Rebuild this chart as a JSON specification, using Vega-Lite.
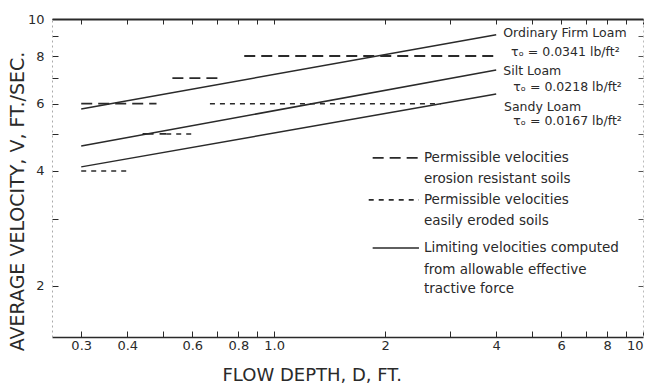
{
  "$schema": "https://vega.github.io/schema/vega-lite/v6.json",
  "width": 591,
  "height": 318,
  "autosize": "none",
  "padding": {"left": 52, "top": 19, "right": 7, "bottom": 48},
  "background": "white",
  "config": {
    "view": {"stroke": null},
    "font": "DejaVu Sans",
    "axis": {"grid": false}
  },
  "datasets": {
    "limits": [
      {"soil": "firm", "D": 0.3, "V": 5.81}, {"soil": "firm", "D": 4, "V": 9.1},
      {"soil": "silt", "D": 0.3, "V": 4.65}, {"soil": "silt", "D": 4, "V": 7.35},
      {"soil": "sandy", "D": 0.3, "V": 4.1}, {"soil": "sandy", "D": 4, "V": 6.36},
      {"soil": "legend", "D": 1.85, "V": 2.515}, {"soil": "legend", "D": 2.47, "V": 2.515}
    ],
    "resistant": [
      {"seg": "r6", "D": 0.3, "V": 6}, {"seg": "r6", "D": 0.48, "V": 6},
      {"seg": "r7", "D": 0.53, "V": 7}, {"seg": "r7", "D": 0.72, "V": 7},
      {"seg": "r8", "D": 0.83, "V": 8}, {"seg": "r8", "D": 4.05, "V": 8},
      {"seg": "r5", "D": 0.44, "V": 5}, {"seg": "r5", "D": 0.51, "V": 5},
      {"seg": "legend", "D": 1.85, "V": 4.33}, {"seg": "legend", "D": 2.47, "V": 4.33}
    ],
    "eroded": [
      {"seg": "e4", "D": 0.3, "V": 4}, {"seg": "e4", "D": 0.4, "V": 4},
      {"seg": "e5", "D": 0.51, "V": 5}, {"seg": "e5", "D": 0.6, "V": 5},
      {"seg": "e6", "D": 0.67, "V": 6}, {"seg": "e6", "D": 2.83, "V": 6},
      {"seg": "legend", "D": 1.805, "V": 3.36}, {"seg": "legend", "D": 2.47, "V": 3.36}
    ],
    "soilLabels": [
      {"D": 4.18, "V": 9.19, "t": "Ordinary Firm Loam"},
      {"D": 4.39, "V": 8.2, "t": "τₒ = 0.0341 lb/ft²"},
      {"D": 4.18, "V": 7.31, "t": "Silt Loam"},
      {"D": 4.45, "V": 6.64, "t": "τₒ = 0.0218 lb/ft²"},
      {"D": 4.2, "V": 5.88, "t": "Sandy Loam"},
      {"D": 4.45, "V": 5.41, "t": "τₒ = 0.0167 lb/ft²"}
    ],
    "legendText": [
      {"D": 2.548, "V": 4.33, "t": "Permissible  velocities"},
      {"D": 2.548, "V": 3.81, "t": "erosion resistant soils"},
      {"D": 2.548, "V": 3.36, "t": "Permissible  velocities"},
      {"D": 2.548, "V": 2.96, "t": "easily eroded soils"},
      {"D": 2.548, "V": 2.515, "t": "Limiting velocities computed"},
      {"D": 2.548, "V": 2.2, "t": "from allowable effective"},
      {"D": 2.548, "V": 1.965, "t": "tractive force"}
    ]
  },
  "resolve": {"axis": {"x": "independent", "y": "independent"}},
  "layer": [
    {
      "data": {"name": "limits"},
      "mark": {"type": "line", "color": "#2a2a2a", "strokeWidth": 1.5},
      "encoding": {
        "x": {
          "field": "D", "type": "quantitative",
          "scale": {"type": "log", "domain": [0.25, 10], "nice": false},
          "axis": {
            "orient": "bottom",
            "values": [0.3, 0.4, 0.5, 0.6, 0.7, 0.8, 0.9, 1, 2, 3, 4, 5, 6, 7, 8, 9, 10],
            "labelExpr": "datum.value == 1 ? '1.0' : (indexof([0.3,0.4,0.6,0.8,2,4,6,8,10], datum.value) >= 0 ? '' + datum.value : '')",
            "tickSize": -6, "tickColor": "#2a2a2a", "tickWidth": 1,
            "domainColor": "#2a2a2a", "domainWidth": 1.5,
            "labelFont": "DejaVu Sans", "labelFontSize": 13, "labelColor": "#2a2a2a",
            "labelPadding": 8, "labelFlush": true, "labelOverlap": false,
            "title": "FLOW DEPTH, D, FT.",
            "titleFont": "DejaVu Sans", "titleFontSize": 18, "titleFontWeight": "normal", "titleColor": "#2a2a2a",
            "titleX": 170, "titleY": 38, "titleAlign": "left", "titleBaseline": "middle"
          }
        },
        "y": {
          "field": "V", "type": "quantitative",
          "scale": {"type": "log", "domain": [1.47, 10], "nice": false},
          "axis": {
            "orient": "left",
            "values": [2, 3, 4, 5, 6, 7, 8, 9, 10],
            "labelExpr": "indexof([2,4,6,8,10], datum.value) >= 0 ? '' + datum.value : ''",
            "tickSize": -6, "tickColor": "#2a2a2a", "tickWidth": 1,
            "domainColor": "#aaaaaa", "domainWidth": 1, "domainDash": [2, 3],
            "labelFont": "DejaVu Sans", "labelFontSize": 13, "labelColor": "#2a2a2a",
            "labelPadding": 14, "labelOverlap": false, "labelFlush": false,
            "title": "AVERAGE VELOCITY, V, FT./SEC.",
            "titleFont": "DejaVu Sans", "titleFontSize": 19, "titleFontWeight": "normal", "titleColor": "#2a2a2a",
            "titleX": -35, "titleY": 182, "titleAngle": -90, "titleAlign": "center", "titleBaseline": "middle"
          }
        },
        "detail": {"field": "soil"}
      }
    },
    {
      "data": {"name": "resistant"},
      "mark": {"type": "line", "color": "#2a2a2a", "strokeWidth": 1.8, "strokeDash": [11, 6]},
      "encoding": {
        "x": {
          "field": "D", "type": "quantitative",
          "axis": {
            "orient": "top",
            "values": [0.3, 0.4, 0.5, 0.6, 0.7, 0.8, 0.9, 1, 2, 3, 4, 5, 6, 7, 8, 9, 10],
            "labels": false, "title": null,
            "tickSize": -5, "tickColor": "#2a2a2a",
            "domainColor": "#2a2a2a", "domainWidth": 1.8
          }
        },
        "y": {
          "field": "V", "type": "quantitative",
          "axis": {
            "orient": "right",
            "values": [2, 3, 4, 5, 6, 7, 8, 9],
            "labels": false, "title": null,
            "tickSize": -5, "tickColor": "#555555",
            "domainColor": "#bbbbbb", "domainWidth": 1, "domainDash": [2, 3]
          }
        },
        "detail": {"field": "seg"}
      }
    },
    {
      "data": {"name": "eroded"},
      "mark": {"type": "line", "color": "#2a2a2a", "strokeWidth": 1.6, "strokeDash": [5, 5]},
      "encoding": {
        "x": {"field": "D", "type": "quantitative", "axis": null},
        "y": {"field": "V", "type": "quantitative", "axis": null},
        "detail": {"field": "seg"}
      }
    },
    {
      "data": {"name": "soilLabels"},
      "mark": {"type": "text", "align": "left", "baseline": "middle", "font": "DejaVu Sans", "fontSize": 12.5, "color": "#2a2a2a"},
      "encoding": {
        "x": {"field": "D", "type": "quantitative", "axis": null},
        "y": {"field": "V", "type": "quantitative", "axis": null},
        "text": {"field": "t"}
      }
    },
    {
      "data": {"name": "legendText"},
      "mark": {"type": "text", "align": "left", "baseline": "middle", "font": "DejaVu Sans", "fontSize": 13.5, "color": "#2a2a2a"},
      "encoding": {
        "x": {"field": "D", "type": "quantitative", "axis": null},
        "y": {"field": "V", "type": "quantitative", "axis": null},
        "text": {"field": "t"}
      }
    }
  ]
}
